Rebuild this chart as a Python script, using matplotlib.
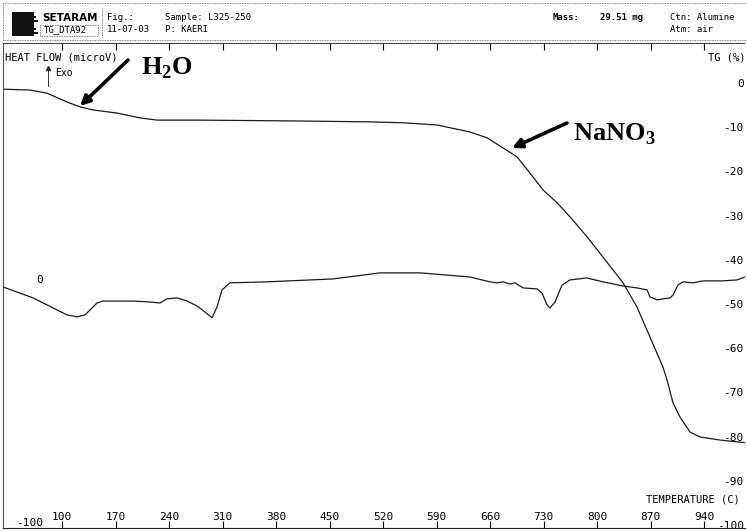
import numpy as np
import matplotlib
matplotlib.use("Agg")
import matplotlib.pyplot as plt
from matplotlib.lines import Line2D
from matplotlib.patches import Rectangle

# TG curve (mass change, %)
tg_temp = [22.8, 58.1, 80.4, 106.5, 123.6, 140.6, 172.0, 202.1, 224.3, 280.6,
           411.4, 503.0, 546.2, 590.7, 633.8, 656.1, 677.0, 695.3, 712.3, 729.4,
           747.7, 764.7, 786.9, 807.8, 834.0, 852.3, 869.3, 886.3, 891.6, 899.4,
           908.6, 921.7, 934.8, 961.0, 993.6]
tg_mass = [-1.4, -1.6, -2.3, -4.3, -5.4, -6.1, -6.8, -7.9, -8.4, -8.4,
           -8.6, -8.8, -9.0, -9.5, -11.1, -12.4, -14.7, -16.7, -20.4, -24.2,
           -27.1, -30.3, -34.8, -39.4, -45.2, -50.7, -57.5, -64.3, -67.2, -72.4,
           -75.6, -79.0, -80.1, -80.8, -81.4]

# DTA curve (heat flow, microV)
hf_temp = [22.8, 62.1, 106.5, 119.6, 130.1, 145.8, 153.6, 192.9, 215.1, 228.2,
           237.4, 250.5, 263.6, 276.6, 287.1, 296.3, 302.8, 309.4, 319.8, 368.2,
           454.6, 516.1, 568.4, 633.8, 660.0, 669.2, 677.0, 686.2, 692.7, 703.2,
           721.5, 728.0, 734.6, 738.5, 745.0, 754.2, 764.7, 786.9, 807.8, 834.0,
           852.3, 865.4, 869.3, 878.5, 895.5, 899.4, 905.9, 912.5, 925.6, 938.7,
           964.8, 983.2, 993.6]
hf_signal = [-3.3, -7.8, -14.8, -15.6, -14.8, -9.9, -9.1, -9.1, -9.5, -9.9,
             -8.2, -7.8, -9.1, -11.1, -13.6, -16.0, -11.5, -4.5, -1.6, -1.2,
             0.0, 2.5, 2.5, 0.8, -1.2, -1.6, -1.2, -2.1, -1.6, -3.7,
             -4.1, -5.8, -10.7, -11.9, -9.5, -2.5, -0.4, 0.4, -1.2, -2.9,
             -3.7, -4.5, -7.4, -8.6, -7.8, -6.6, -2.5, -1.2, -1.6, -0.8,
             -0.8, -0.4, 0.8]

temp_ticks = [100, 170, 240, 310, 380, 450, 520, 590, 660, 730, 800, 870, 940]
tg_ticks = [0, -10, -20, -30, -40, -50, -60, -70, -80, -90, -100]
hf_ticks = [0, -100]

W, H = 747, 531
MONO = "DejaVu Sans Mono"
plt.rcParams["mathtext.fontset"] = "custom"
plt.rcParams["mathtext.rm"] = "Liberation Serif:bold"
plt.rcParams["axes.unicode_minus"] = False

fig = plt.figure(figsize=(W / 100, H / 100), dpi=100)


def fx(x):
    return x / W


def fy(y):
    return 1 - y / H


def fline(x0, y0, x1, y1, **kw):
    kw.setdefault("color", "#555555")
    kw.setdefault("lw", 0.6)
    kw.setdefault("ls", (0, (1, 1)))
    fig.add_artist(Line2D([fx(x0), fx(x1)], [fy(y0), fy(y1)], transform=fig.transFigure, **kw))


#################################################################
# header block
fline(3, 3, 747, 3)
fline(3, 3, 3, 40)
fline(102, 8, 102, 38)
fline(3, 40, 747, 40)
fig.add_artist(Rectangle((fx(12), fy(36)), fx(22), 24 / H, transform=fig.transFigure,
                         color="#111111", lw=0))
for i, yy in enumerate([12, 16, 20, 24, 28, 32]):
    fig.add_artist(Rectangle((fx(30), fy(yy + 2)), fx(4 + 2 * (i % 3)), 1.5 / H,
                             transform=fig.transFigure, color="#111111", lw=0))
fig.text(fx(42), fy(18), "SETARAM", fontsize=7.5, weight="bold", family="DejaVu Sans",
         va="center")
fig.add_artist(Rectangle((fx(40), fy(36)), fx(58), 11 / H, transform=fig.transFigure,
                         fill=False, ec="#555555", lw=0.6, ls=(0, (1, 1))))
fig.text(fx(44), fy(30), "TG_DTA92", fontsize=6.5, family=MONO, va="center")
fig.text(fx(107), fy(17), "Fig.:", fontsize=6.5, family=MONO, va="center")
fig.text(fx(107), fy(30), "11-07-03", fontsize=6.5, family=MONO, va="center")
fig.text(fx(165), fy(17), "Sample: L325-250", fontsize=6.5, family=MONO, va="center")
fig.text(fx(165), fy(30), "P: KAERI", fontsize=6.5, family=MONO, va="center")
fig.text(fx(553), fy(18), "Mass:", fontsize=6.5, family=MONO, va="center", weight="bold")
fig.text(fx(600), fy(18), "29.51 mg", fontsize=6.5, family=MONO, va="center", weight="bold")
fig.text(fx(670), fy(18), "Ctn: Alumine", fontsize=6.5, family=MONO, va="center")
fig.text(fx(670), fy(30), "Atm: air", fontsize=6.5, family=MONO, va="center")

#################################################################
# plot area: TG on the right scale, heat flow on the left scale
ax = fig.add_axes([fx(3), 3 / H, fx(742), 485 / H])
ax.set_xlim(22.8, 993.6)
ax.set_ylim(-100.7, 9.05)
ax.plot(tg_temp, tg_mass, color="#1a1a1a", lw=0.9)

ax2 = ax.twinx()
ax2.set_ylim(-102.5, 97.1)
ax2.plot(hf_temp, hf_signal, color="#1a1a1a", lw=0.9)

for s in ax2.spines.values():
    s.set_visible(False)
ax.spines["right"].set_visible(False)
ax.spines["left"].set_linestyle((0, (1, 1)))
ax.spines["left"].set_color("#555555")
ax.spines["top"].set_linestyle((0, (1, 1)))
ax.spines["top"].set_color("#444444")
ax.spines["bottom"].set_color("#222222")
ax.spines["bottom"].set_linewidth(0.8)

ax.set_xticks(temp_ticks)
ax.tick_params(axis="x", direction="in", length=5, width=0.8, top=True, bottom=True,
               pad=-4, labelsize=8, labelfontfamily=MONO)
plt.setp(ax.get_xticklabels(), va="bottom")

ax.yaxis.tick_right()
ax.set_yticks(tg_ticks)
ax.tick_params(axis="y", length=0, pad=-1, labelsize=8, labelfontfamily=MONO)
plt.setp(ax.get_yticklabels(), ha="right")

ax2.yaxis.tick_left()
ax2.set_yticks(hf_ticks)
ax2.tick_params(axis="y", length=0, pad=-29, labelsize=8, labelfontfamily=MONO)

# axis captions
fig.text(fx(5), fy(57), "HEAT FLOW (microV)", fontsize=7.5, family=MONO, va="center")
fig.text(fx(745), fy(57), "TG (%)", fontsize=7.5, family=MONO, va="center", ha="right")
fig.text(fx(740), fy(499), "TEMPERATURE (C)", fontsize=7.5, family=MONO, va="center",
         ha="right")
fig.add_artist(Line2D([fx(48), fx(48)], [fy(86), fy(68)], transform=fig.transFigure,
                      color="#333333", lw=0.7, marker="^", markevery=[1], markersize=3))
fig.text(fx(55), fy(73), "Exo", fontsize=7, family=MONO, va="center")

# labels for the two steps
ax.annotate("", xy=(123.6, -5.2), xytext=(186.4, 5.2),
            arrowprops=dict(arrowstyle="-|>", lw=2.6, color="black", mutation_scale=14,
                            shrinkA=0, shrinkB=0))
ax.text(203.0, 3.4, "H$_2$O", fontsize=19, family="Liberation Serif", weight="bold",
        va="center", ha="left")
ax.annotate("", xy=(688.8, -14.7), xytext=(760.7, -9.05),
            arrowprops=dict(arrowstyle="-|>", lw=2.6, color="black", mutation_scale=14,
                            shrinkA=0, shrinkB=0))
ax.text(768.6, -11.5, "NaNO$_3$", fontsize=19, family="Liberation Serif", weight="bold",
        va="center", ha="left")

fig.savefig("out.png", dpi=100)
